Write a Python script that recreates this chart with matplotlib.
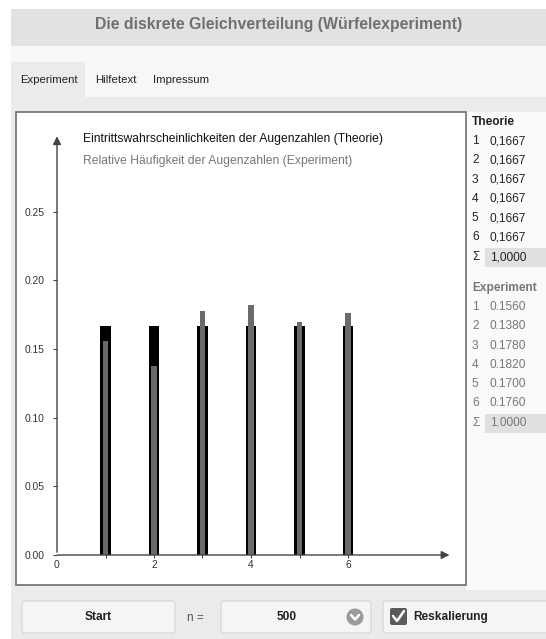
import numpy as np
import matplotlib
matplotlib.use('Agg')
import matplotlib.pyplot as plt
from matplotlib.patches import Rectangle, FancyBboxPatch, Circle

# ── Data ────────────────────────────────────────────────────────────────────
augenzahlen = [1, 2, 3, 4, 5, 6]
theorie = [1 / 6] * 6
experiment = [0.156, 0.138, 0.178, 0.182, 0.170, 0.176]
theorie_text = ['0,1667'] * 6
experiment_text = ['0.1560', '0.1380', '0.1780', '0.1820', '0.1700', '0.1760']
y_ticks = [0.00, 0.05, 0.10, 0.15, 0.20, 0.25]
x_ticks = [1, 2, 3, 4, 5, 6]
x_labels = [0, 2, 4, 6]

FONT = ['Liberation Sans', 'DejaVu Sans']
plt.rcParams['font.family'] = FONT

W, H = 546, 639
fig = plt.figure(figsize=(W / 100, H / 100), dpi=100)

# ── UI layer in pixel coordinates ───────────────────────────────────────────
ui = fig.add_axes([0, 0, 1, 1], zorder=0)
ui.set_xlim(0, W)
ui.set_ylim(H, 0)
ui.axis('off')


def box(x0, y0, x1, y1, fc, ec='none', lw=0, **kw):
    ui.add_patch(Rectangle((x0, y0), x1 - x0, y1 - y0, fc=fc, ec=ec, lw=lw, **kw))


box(11, 9, W, 46, '#e2e2e2')
box(11, 46, W, 97, '#f7f7f7')
box(11, 62, 85, 97, '#ebebeb')
box(11, 97, W, H, '#ebebeb')
box(466, 112, W, 590, '#fafafa')
box(16, 112, 466, 585, 'white', ec='#6e6e6e', lw=1.2)

ui.text(279, 24, 'Die diskrete Gleichverteilung (Würfelexperiment)', ha='center',
        va='center', fontsize=11.4, fontweight='bold', color='#707070')
for x, t in [(20, 'Experiment'), (95, 'Hilfetext'), (153, 'Impressum')]:
    ui.text(x, 80, t, ha='left', va='center', fontsize=8.2, color='#222222')

# right hand tables
fs_tab = 8.6
ui.text(472, 122, 'Theorie', ha='left', va='center', fontsize=fs_tab,
        fontweight='bold', color='#222222')
for i, (k, v) in enumerate(zip(augenzahlen, theorie_text)):
    y = 141 + i * 19.3
    ui.text(472, y, str(k), ha='left', va='center', fontsize=fs_tab, color='#222222')
    ui.text(490, y, v, ha='left', va='center', fontsize=fs_tab, color='#222222')
box(485, 248, W, 267, '#e0e0e0')
ui.text(472, 257, 'Σ', ha='left', va='center', fontsize=fs_tab, color='#222222')
ui.text(490, 257, '1,0000', ha='left', va='center', fontsize=fs_tab, color='#222222')

ui.text(472, 288, 'Experiment', ha='left', va='center', fontsize=fs_tab,
        fontweight='bold', color='#777777')
for i, (k, v) in enumerate(zip(augenzahlen, experiment_text)):
    y = 307 + i * 19.3
    ui.text(472, y, str(k), ha='left', va='center', fontsize=fs_tab, color='#777777')
    ui.text(490, y, v, ha='left', va='center', fontsize=fs_tab, color='#777777')
box(485, 414, W, 433, '#e0e0e0')
ui.text(472, 423, 'Σ', ha='left', va='center', fontsize=fs_tab, color='#777777')
ui.text(490, 423, '1.0000', ha='left', va='center', fontsize=fs_tab, color='#777777')

# bottom controls
for x0, x1 in [(22, 175), (221, 371), (383, 560)]:
    ui.add_patch(FancyBboxPatch((x0, 601), x1 - x0, 32, boxstyle='round,pad=0,rounding_size=3',
                                fc='#f5f5f5', ec='#d4d4d4', lw=0.8))
ui.text(98, 617, 'Start', ha='center', va='center', fontsize=8.6, fontweight='bold', color='#222222')
ui.text(195, 618, 'n =', ha='center', va='center', fontsize=8.6, color='#555555')
ui.text(287, 617, '500', ha='center', va='center', fontsize=8.6, fontweight='bold', color='#222222')
ui.add_patch(Circle((355, 617), 8.5, fc='#9a9a9a', ec='none'))
ui.plot([351, 355, 359], [615, 619.5, 615], color='white', lw=1.8, solid_capstyle='round')
ui.add_patch(FancyBboxPatch((390, 608), 17, 17, boxstyle='round,pad=0,rounding_size=2',
                            fc='#5a5a5a', ec='none'))
ui.plot([393, 397, 404], [616, 621, 611], color='white', lw=1.8, solid_capstyle='round')
ui.text(413, 617, 'Reskalierung', ha='left', va='center', fontsize=8.6, fontweight='bold', color='#222222')

# ── Chart axes: x=0 at px 57, y=0 at px 555 ─────────────────────────────────
px_x, px_y = 48.5, 1373.0
ax_l, ax_r, ax_b, ax_t = 57, 462, 555, 132
ax = fig.add_axes([ax_l / W, 1 - ax_b / H, (ax_r - ax_l) / W, (ax_b - ax_t) / H], zorder=1)
ax.patch.set_visible(False)
ax.set_xlim(0, (ax_r - ax_l) / px_x)
ax.set_ylim(0, (ax_b - ax_t) / px_y)
for s in ax.spines.values():
    s.set_visible(False)

ax.bar(augenzahlen, theorie, width=0.21, color='black', zorder=2)
ax.bar(augenzahlen, experiment, width=0.12, color='#6a6a6a', zorder=3)

axis_col = '#444444'
ax.annotate('', xy=(8.15, 0), xytext=(-0.05, 0),
            arrowprops=dict(arrowstyle='-|>', color=axis_col, lw=1, mutation_scale=12),
            annotation_clip=False, zorder=4)
ax.annotate('', xy=(0, 0.307), xytext=(0, 0),
            arrowprops=dict(arrowstyle='-|>', color=axis_col, lw=1, mutation_scale=12),
            annotation_clip=False, zorder=4)

ax.set_yticks(y_ticks)
ax.set_yticklabels([f'{v:.2f}' for v in y_ticks])
ax.tick_params(axis='y', length=3, width=0.8, color=axis_col, pad=6,
               labelsize=7.4, labelcolor='#333333')
ax.set_xticks(x_ticks)
ax.set_xticklabels(['' for _ in x_ticks])
ax.tick_params(axis='x', length=4, width=0.8, color=axis_col, direction='inout')
for v in x_labels:
    ax.text(v, -0.004, str(v), ha='center', va='top', fontsize=7.4, color='#333333')

ax.text(0.53, 0.303, 'Eintrittswahrscheinlichkeiten der Augenzahlen (Theorie)',
        ha='left', va='center', fontsize=8.7, color='#111111')
ax.text(0.53, 0.287, 'Relative Häufigkeit der Augenzahlen (Experiment)',
        ha='left', va='center', fontsize=8.7, color='#777777')

fig.savefig('out.png', dpi=100)
